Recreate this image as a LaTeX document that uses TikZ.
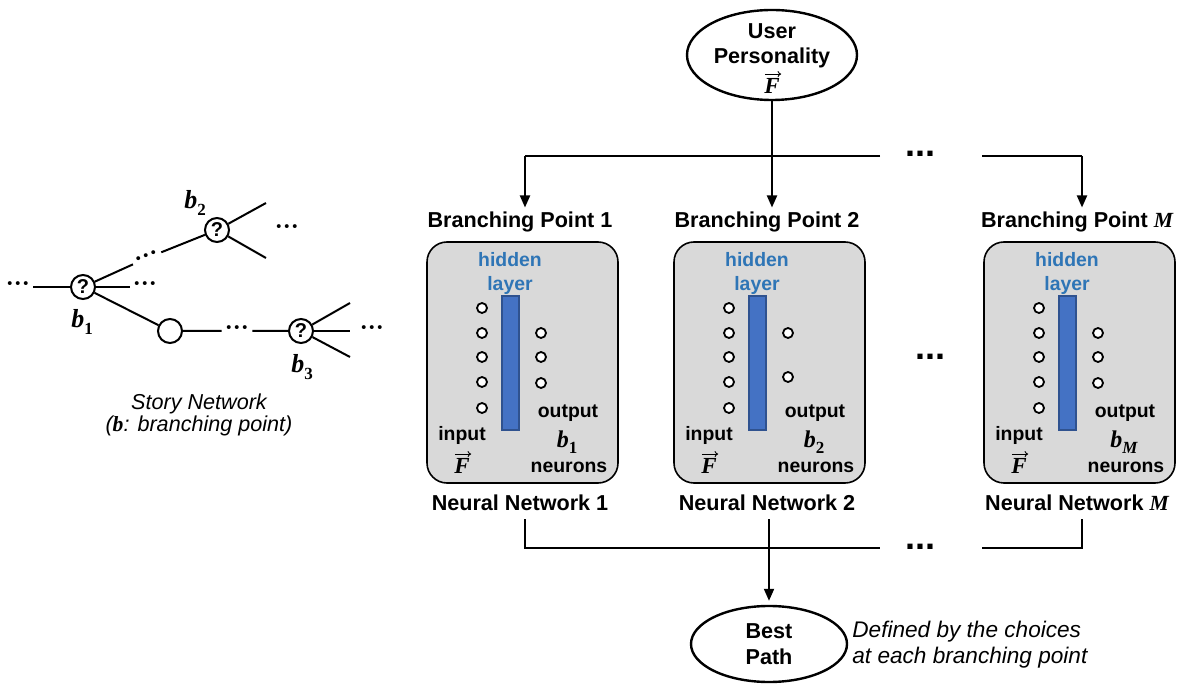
\documentclass[tikz,border=0pt]{standalone}
\usepackage{fontspec}
\setmainfont{Liberation Sans}
\newfontfamily\tnr{Liberation Serif}
\usetikzlibrary{positioning,arrows.meta,shapes.geometric}

\definecolor{boxgray}{RGB}{217,217,217}
\definecolor{barblue}{RGB}{68,114,196}
\definecolor{barline}{RGB}{47,82,143}
\definecolor{hidblue}{RGB}{46,117,182}

\newcommand{\bvar}[1]{{\tnr\bfseries\itshape #1}}
\newcommand{\bsub}[2]{\bvar{#1}\raisebox{-0.45ex}{\tnr\bfseries\fontsize{8.5}{8.5}\selectfont #2}}
% F with a small arrow drawn over it
\newcommand{\vecFnode}[2]{%
	\node[FStyle] (#1) at (#2) {\bvar{F}};
	\draw[VecArrow] ([xshift=-3.6pt,yshift=2pt]#1.north) -- ([xshift=4.6pt,yshift=2pt]#1.north);}

\begin{document}
\begin{tikzpicture}[x=0.5pt,y=-0.5pt]
\tikzset{LabelStyle/.style = {font=\bfseries\fontsize{10.8}{12.5}\selectfont, align=center, inner sep=0pt},
	SmallStyle/.style = {font=\bfseries\fontsize{9.7}{12}\selectfont, align=center, inner sep=0pt},
	OvalStyle/.style = {ellipse, draw, line width=1.2pt, inner sep=0pt},
	BoxStyle/.style = {draw, fill=boxgray, rounded corners=10pt, line width=0.8pt,
		minimum width=95.5pt, minimum height=120.5pt},
	BarStyle/.style = {draw=barline, fill=barblue, line width=0.6pt, minimum width=8.5pt, minimum height=67pt, inner sep=0pt},
	NeuronStyle/.style = {circle, draw, fill=white, line width=0.9pt, minimum size=5pt, inner sep=0pt},
	PointStyle/.style = {circle, draw, fill=white, line width=1pt, minimum size=12pt, inner sep=0pt,
		font=\bfseries\fontsize{10}{10}\selectfont},
	DotsStyle/.style = {inner sep=1.5pt, font=\tnr\bfseries\fontsize{12}{12}\selectfont},
	BigDots/.style = {anchor=base, inner sep=0pt, font=\bfseries\fontsize{18}{18}\selectfont},
	FStyle/.style = {inner sep=0pt, font=\fontsize{11.5}{11.5}\selectfont},
	VecArrow/.style = {line width=0.45pt, -{To[length=1.8pt,width=3pt]}},
	Conn/.style = {line width=1pt},
	Arr/.style = {Conn, -{Triangle[width=5pt,length=6pt]}, shorten >=2pt}}
\useasboundingbox (0,0) rectangle (1189,689);

% story network
\node[PointStyle] (B1) at (83,287) {?};
\node[PointStyle] (B2) at (217,230) {?};
\node[PointStyle] (Plain) at (170,331) {};
\node[PointStyle] (B3) at (301,331) {?};
\node[DotsStyle] (Dots0) at (18,287) {···};
\node[DotsStyle] (Dots1) at (145,287) {···};
\node[DotsStyle, rotate=22] (Dots12) at (147,258) {···};
\node[DotsStyle] (Dots2) at (287,230) {···};
\node[DotsStyle] (DotsP) at (237,331) {···};
\node[DotsStyle] (Dots3) at (372,331) {···};
\coordinate (B2up) at (266,203);
\coordinate (B2dn) at (266,258);
\coordinate (B3up) at (350,303);
\coordinate (B3mid) at (350,331);
\coordinate (B3dn) at (350,357);
\node[inner sep=0pt, font=\fontsize{13}{13}\selectfont] (LabB1) at (82,322) {\bsub{b}{1}};
\node[inner sep=0pt, font=\fontsize{13}{13}\selectfont] (LabB2) at (195,203) {\bsub{b}{2}};
\node[inner sep=0pt, font=\fontsize{13}{13}\selectfont] (LabB3) at (302,367) {\bsub{b}{3}};
\node[align=center, inner sep=0pt, font=\itshape\fontsize{10.8}{11}\selectfont] (Story) at (199,415)
	{Story Network\\(\bvar{b}: branching point)};

\draw[Conn] (Dots0) -- (B1) -- (Dots1);
\draw[Conn] (B1) -- (Dots12) -- (B2);
\draw[Conn] (B2) -- (B2up);
\draw[Conn] (B2) -- (B2dn);
\draw[Conn] (B1) -- (Plain) -- (DotsP) -- (B3);
\draw[Conn] (B3) -- (B3up);
\draw[Conn] (B3) -- (B3mid);
\draw[Conn] (B3) -- (B3dn);

% neural networks
\foreach \i/\dx/\num/\outs in {1/0/1/{333,357,383}, 2/247/2/{333,377}, M/557/{\bvar{M}}/{333,357,383}}{
	\node[BoxStyle] (Box\i) at (522.5+\dx,362.5) {};
	\node[LabelStyle] (Bp\i) at (520+\dx,222) {Branching Point \num};
	\node[LabelStyle] (Nn\i) at (520+\dx,503) {Neural Network \num};
	\node[SmallStyle, text=hidblue] (Hid\i) at (510+\dx,273) {hidden\\layer};
	\node[BarStyle] (Bar\i) at (510.5+\dx,363) {};
	\foreach \y in {308,333,357,382,408}
		\node[NeuronStyle] at (482+\dx,\y) {};
	\foreach \y in \outs
		\node[NeuronStyle] at (541+\dx,\y) {};
	\node[SmallStyle] (Out\i) at (568+\dx,413) {output};
	\node[inner sep=0pt, font=\fontsize{12}{12}\selectfont] (Bsub\i) at (567+\dx,442) {\bsub{b}{\num}};
	\node[SmallStyle] (Neu\i) at (569+\dx,467) {neurons};
	\node[SmallStyle] (In\i) at (462+\dx,435) {input};
	\vecFnode{F\i}{462+\dx,466}
}
\node[BigDots] (MidDots) at (930,360) {...};

% user and best path
\node[OvalStyle, minimum width=85pt, minimum height=45pt] (User) at (772,55) {};
\node[LabelStyle] (UserText) at (772,46) {User\\Personality};
\vecFnode{UserF}{772,86}
\node[OvalStyle, minimum width=78pt, minimum height=38pt] (Best) at (769,644) {};
\node[LabelStyle, font=\bfseries\fontsize{10.8}{13}\selectfont] (BestText) at (769,644) {Best\\Path};
\node[anchor=west, align=left, inner sep=0pt, font=\itshape\fontsize{11.3}{13}\selectfont] (Defined) at (852,645)
	{Defined by the choices\\at each branching point};

% top bus
\coordinate (TopL) at (525,156);
\coordinate (TopGapL) at (880,156);
\coordinate (TopGapR) at (982,156);
\coordinate (TopR) at (1082,156);
\node[BigDots] (TopDots) at (920,157) {...};
\draw[Conn] (TopGapL) -- (TopL);
\draw[Conn] (TopGapR) -- (TopR);
\draw[Arr] (TopL) -- (TopL |- Bp1.north);
\draw[Arr] (TopR) -- (TopR |- BpM.north);
\draw[Arr] (User.south) -- (User.south |- Bp2.north);

% bottom bus
\coordinate (BotL) at (525,548);
\coordinate (BotGapL) at (880,548);
\coordinate (BotGapR) at (982,548);
\coordinate (BotR) at (1082,548);
\node[BigDots] (BotDots) at (920,549) {...};
\draw[Conn, shorten <=4pt] (BotL |- Nn1.south) -- (BotL) -- (BotGapL);
\draw[Conn, shorten >=4pt] (BotGapR) -- (BotR) -- (BotR |- NnM.south);
\draw[Arr, shorten <=4pt] (Best.north |- Nn2.south) -- (Best.north);
%\draw[Conn] (Nn2) -- (Best);
\end{tikzpicture}
\end{document}
